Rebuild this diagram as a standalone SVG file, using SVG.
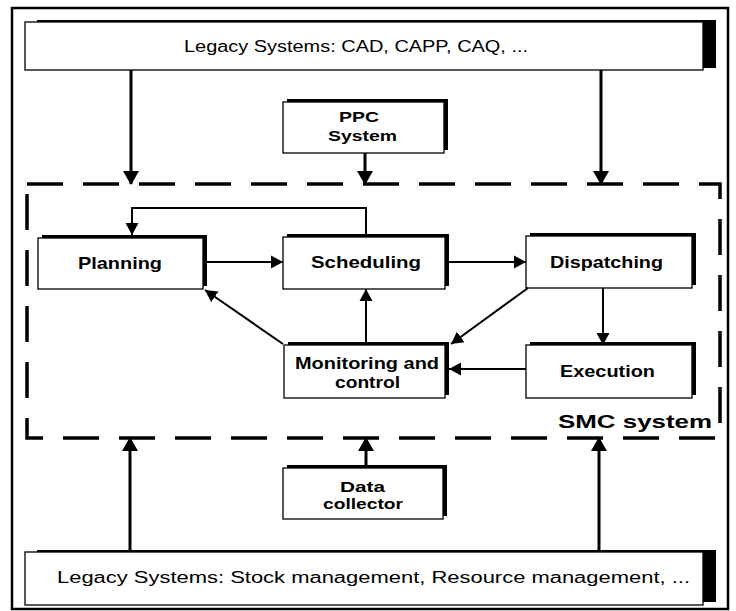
<svg xmlns="http://www.w3.org/2000/svg" width="736" height="611" viewBox="0 0 736 611">
  <defs>
    <marker id="headBig" markerUnits="userSpaceOnUse" markerWidth="18" markerHeight="16" refX="13" refY="8" orient="auto">
      <path d="M0,0 L14,8 L0,16 Z" fill="#000"/>
    </marker>
    <marker id="head" markerUnits="userSpaceOnUse" markerWidth="14" markerHeight="14" refX="12" refY="7" orient="auto">
      <path d="M0,0.5 L12,7 L0,13.5 Z" fill="#000"/>
    </marker>
    <style>
      .frame { fill: none; stroke: #000; stroke-width: 2.5; }
      .box { fill: #fff; stroke: #000; stroke-width: 1.3; }
      .shadow { fill: #000; }
      .smc { fill: none; stroke: #000; stroke-width: 3.5; stroke-dasharray: 36 20; }
      .big { fill: none; stroke: #000; stroke-width: 3; marker-end: url(#headBig); }
      .flow { fill: none; stroke: #000; stroke-width: 2; marker-end: url(#head); }
      text { font-family: "Liberation Sans", Arial, Helvetica, sans-serif; fill: #000; }
      .legacy { font-size: 16px; }
      .node { font-size: 17px; font-weight: bold; }
      .small { font-size: 15px; font-weight: bold; }
      .mon { font-size: 16px; font-weight: bold; }
      .smclabel { font-size: 18px; font-weight: bold; }
    </style>
  </defs>

  <rect width="736" height="611" fill="#fff"/>

  <!-- outer border -->
  <rect class="frame" x="12" y="8" width="716" height="601"/>

  <!-- SMC system boundary -->
  <g id="smc-system">
    <rect class="smc" x="27" y="184" width="693" height="254"/>
    <text class="smclabel" x="558" y="428" textLength="154" lengthAdjust="spacingAndGlyphs">SMC system</text>
  </g>

  <g id="legacy-top">
    <rect class="shadow" x="37" y="20" width="679" height="48"/>
    <rect class="box" x="25" y="22" width="678" height="48"/>
    <text class="legacy" x="184" y="52" textLength="344" lengthAdjust="spacingAndGlyphs">Legacy Systems: CAD, CAPP, CAQ, ...</text>
  </g>

  <g id="ppc-system">
    <rect class="shadow" x="287" y="99" width="161" height="51"/>
    <rect class="box" x="283" y="102" width="161" height="51"/>
    <text class="small" x="339" y="122" textLength="40" lengthAdjust="spacingAndGlyphs">PPC</text>
    <text class="small" x="328" y="141" textLength="69" lengthAdjust="spacingAndGlyphs">System</text>
  </g>

  <g id="planning">
    <rect class="shadow" x="42" y="235" width="165" height="51"/>
    <rect class="box" x="38" y="238" width="165" height="51"/>
    <text class="node" x="78" y="269" textLength="84" lengthAdjust="spacingAndGlyphs">Planning</text>
  </g>

  <g id="scheduling">
    <rect class="shadow" x="287" y="234" width="162" height="52"/>
    <rect class="box" x="283" y="237" width="162" height="52"/>
    <text class="node" x="311" y="268" textLength="110" lengthAdjust="spacingAndGlyphs">Scheduling</text>
  </g>

  <g id="dispatching">
    <rect class="shadow" x="530" y="233" width="166" height="52"/>
    <rect class="box" x="526" y="236" width="166" height="52"/>
    <text class="node" x="550" y="268" textLength="113" lengthAdjust="spacingAndGlyphs">Dispatching</text>
  </g>

  <g id="monitoring">
    <rect class="shadow" x="288" y="342" width="161" height="53"/>
    <rect class="box" x="284" y="345" width="161" height="53"/>
    <text class="mon" x="295" y="369" textLength="144" lengthAdjust="spacingAndGlyphs">Monitoring and</text>
    <text class="mon" x="335" y="388" textLength="65" lengthAdjust="spacingAndGlyphs">control</text>
  </g>

  <g id="execution">
    <rect class="shadow" x="530" y="342" width="166" height="53"/>
    <rect class="box" x="526" y="345" width="166" height="53"/>
    <text class="node" x="560" y="377" textLength="95" lengthAdjust="spacingAndGlyphs">Execution</text>
  </g>

  <g id="data-collector">
    <rect class="shadow" x="287" y="465" width="160" height="51"/>
    <rect class="box" x="283" y="468" width="160" height="51"/>
    <text class="small" x="340" y="492" textLength="45" lengthAdjust="spacingAndGlyphs">Data</text>
    <text class="small" x="323" y="509" textLength="80" lengthAdjust="spacingAndGlyphs">collector</text>
  </g>

  <g id="legacy-bottom">
    <rect class="shadow" x="37" y="550" width="679" height="52"/>
    <rect class="box" x="25" y="552" width="678" height="53"/>
    <text class="legacy" x="57" y="583" textLength="633" lengthAdjust="spacingAndGlyphs">Legacy Systems: Stock management, Resource management, ...</text>
  </g>

  <g id="connectors">
    <!-- legacy systems into SMC -->
    <line class="big" x1="131" y1="70" x2="131" y2="184"/>
    <line class="big" x1="601" y1="70" x2="601" y2="184"/>
    <line class="big" x1="365" y1="153" x2="365" y2="184"/>
    <!-- bottom inputs into SMC -->
    <line class="big" x1="130" y1="550" x2="130" y2="438"/>
    <line class="big" x1="599" y1="550" x2="599" y2="438"/>
    <line class="big" x1="366" y1="465" x2="366" y2="438"/>
    <!-- internal flow -->
    <polyline class="flow" points="366,234 366,208 132,208 132,235"/>
    <line class="flow" x1="207" y1="262" x2="283" y2="262"/>
    <line class="flow" x1="449" y1="262" x2="526" y2="262"/>
    <line class="flow" x1="603" y1="288" x2="603" y2="345"/>
    <line class="flow" x1="526" y1="369" x2="449" y2="369"/>
    <line class="flow" x1="366" y1="342" x2="366" y2="289"/>
    <line class="flow" x1="283" y1="344" x2="205" y2="290"/>
    <line class="flow" x1="528" y1="288" x2="451" y2="344"/>
  </g>
</svg>
